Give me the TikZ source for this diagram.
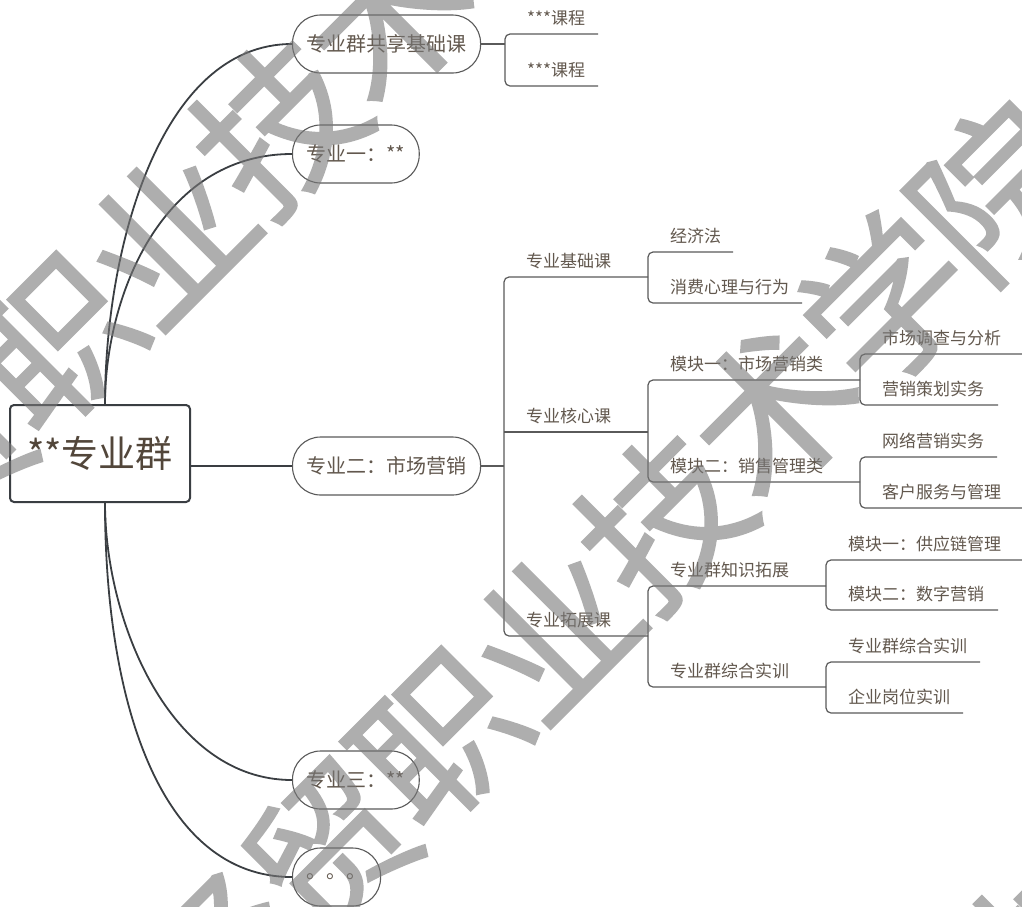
\documentclass[tikz,border=0pt]{standalone}
\usepackage{fontspec}
\setmainfont{Noto Sans CJK SC}
\newfontfamily\wmfont{Noto Sans CJK SC}[FakeBold=1]
\usetikzlibrary{calc}
\definecolor{txt}{RGB}{98,88,78}
\definecolor{roottxt}{RGB}{82,70,58}
\definecolor{ln}{RGB}{90,90,90}
\definecolor{rootln}{RGB}{58,62,66}
\definecolor{wmc}{RGB}{120,120,120}
\begin{document}
\begin{tikzpicture}[x=1pt,y=-1pt,
  lbl/.style={anchor=base west, text=txt, inner sep=0pt, font=\fontsize{17}{19}\selectfont},
  pill/.style={draw=ln, line width=1.1pt, rounded corners=28pt, minimum height=58pt, inner xsep=14pt, inner ysep=0pt, anchor=west, text=txt, font=\fontsize{20}{22}\selectfont},
  br/.style={draw=ln, line width=1.2pt, rounded corners=5pt},
  tie/.style={draw=ln, line width=1.2pt},
  trunk/.style={draw=rootln, line width=1.8pt},
  rootbox/.style={draw=rootln, line width=2pt, rounded corners=4pt, minimum width=180pt, minimum height=97pt, inner sep=0pt, text=roottxt, font=\fontsize{37}{40}\selectfont},
  wm/.style={rotate=45, text=wmc, inner sep=0pt, font=\wmfont\fontsize{162}{162}\selectfont}
]
\useasboundingbox (0,0) rectangle (1022,906);
\fill[white] (0,0) rectangle (1022,906);

% root and main branches
\node[rootbox] (root) at (100,453.5) {**专业群};
\node[pill] (p0) at (292,44) {专业群共享基础课};
\node[pill] (p1) at (292,154) {专业一：**};
\node[pill] (p2) at (292,466) {专业二：市场营销};
\node[pill] (p3) at (292,780) {专业三：**};
\node[pill] (p4) at (292,877) {。。。};

\draw[trunk] ($(root.north)+(5,0)$) .. controls +(0,-155) and +(-132,0) .. (p0.west);
\draw[trunk] ($(root.north)+(5,0)$) .. controls +(0,-105) and +(-132,0) .. (p1.west);
\draw[trunk] (root.east |- p2.west) -- (p2.west);
\draw[trunk] ($(root.south)+(5,0)$) .. controls +(0,118) and +(-122,0) .. (p3.west);
\draw[trunk] ($(root.south)+(5,0)$) .. controls +(0,198) and +(-132,0) .. (p4.west);

% shared basic courses
\coordinate (g0m) at (505,44);
\coordinate (g0a) at (505,34); \coordinate (g0ae) at (598,34);
\coordinate (g0b) at (505,86); \coordinate (g0be) at (598,86);
\draw[tie] (p0.east) -- (g0m);
\draw[br] (g0ae) -- (g0a) -- (g0b) -- (g0be);
\node[lbl] (t0a) at (527,24.5) {***课程};
\node[lbl] (t0b) at (527,76.5) {***课程};

% major two: level 2
\coordinate (bm) at (504,466);
\coordinate (b1) at (504,277); \coordinate (b1e) at (648,277);
\coordinate (b2) at (504,432); \coordinate (b2e) at (648,432);
\coordinate (b3) at (504,636); \coordinate (b3e) at (648,636);
\draw[tie] (p2.east) -- (bm);
\draw[br] (b1e) -- (b1) -- (b3) -- (b3e);
\draw[tie] (b2) -- (b2e);
\node[lbl] (tb1) at (526,267.5) {专业基础课};
\node[lbl] (tb2) at (526,422.5) {专业核心课};
\node[lbl] (tb3) at (526,626.5) {专业拓展课};

% C1
\coordinate (c1a) at (648,252); \coordinate (c1ae) at (733,252);
\coordinate (c1b) at (648,303); \coordinate (c1be) at (802,303);
\draw[br] (c1ae) -- (c1a) -- (c1b) -- (c1be);
\node[lbl] (tc1a) at (670,242.5) {经济法};
\node[lbl] (tc1b) at (670,293.5) {消费心理与行为};

% C2
\coordinate (c2a) at (648,380); \coordinate (c2ae) at (860,380);
\coordinate (c2b) at (648,482); \coordinate (c2be) at (860,482);
\draw[br] (c2ae) -- (c2a) -- (c2b) -- (c2be);
\node[lbl] (tc2a) at (670,370.5) {模块一：市场营销类};
\node[lbl] (tc2b) at (670,472.5) {模块二：销售管理类};

% D1
\coordinate (d1a) at (860,354); \coordinate (d1ae) at (1022,354);
\coordinate (d1b) at (860,405); \coordinate (d1be) at (998,405);
\draw[br] (d1ae) -- (d1a) -- (d1b) -- (d1be);
\node[lbl] (td1a) at (882,344.5) {市场调查与分析};
\node[lbl] (td1b) at (882,395.5) {营销策划实务};

% D2
\coordinate (d2a) at (860,457); \coordinate (d2ae) at (997,457);
\coordinate (d2b) at (860,508); \coordinate (d2be) at (1022,508);
\draw[br] (d2ae) -- (d2a) -- (d2b) -- (d2be);
\node[lbl] (td2a) at (882,447.5) {网络营销实务};
\node[lbl] (td2b) at (882,498.5) {客户服务与管理};

% C3
\coordinate (c3a) at (648,586); \coordinate (c3ae) at (826,586);
\coordinate (c3b) at (648,687); \coordinate (c3be) at (826,687);
\draw[br] (c3ae) -- (c3a) -- (c3b) -- (c3be);
\node[lbl] (tc3a) at (670,576.5) {专业群知识拓展};
\node[lbl] (tc3b) at (670,677.5) {专业群综合实训};

% D3
\coordinate (d3a) at (826,560); \coordinate (d3ae) at (1022,560);
\coordinate (d3b) at (826,610); \coordinate (d3be) at (998,610);
\draw[br] (d3ae) -- (d3a) -- (d3b) -- (d3be);
\node[lbl] (td3a) at (848,550.5) {模块一：供应链管理};
\node[lbl] (td3b) at (848,600.5) {模块二：数字营销};

% D4
\coordinate (d4a) at (826,662); \coordinate (d4ae) at (980,662);
\coordinate (d4b) at (826,713); \coordinate (d4be) at (963,713);
\draw[br] (d4ae) -- (d4a) -- (d4b) -- (d4be);
\node[lbl] (td4a) at (848,652.5) {专业群综合实训};
\node[lbl] (td4b) at (848,703.5) {企业岗位实训};

% watermark
\begin{scope}[transparency group, opacity=0.6]
\foreach \c [count=\i] in {经,贸,职,业,技,术,学,院} {
  \node[wm] (wmA\i) at (-166+111*\i-111, 565-110*\i+110) {\c};
  \node[wm] (wmB\i) at (219+111*\i-111, 960-110*\i+110) {\c};
  \node[wm] (wmC\i) at (619+111*\i-111, 1360-110*\i+110) {\c};
}
\end{scope}
\end{tikzpicture}
\end{document}
